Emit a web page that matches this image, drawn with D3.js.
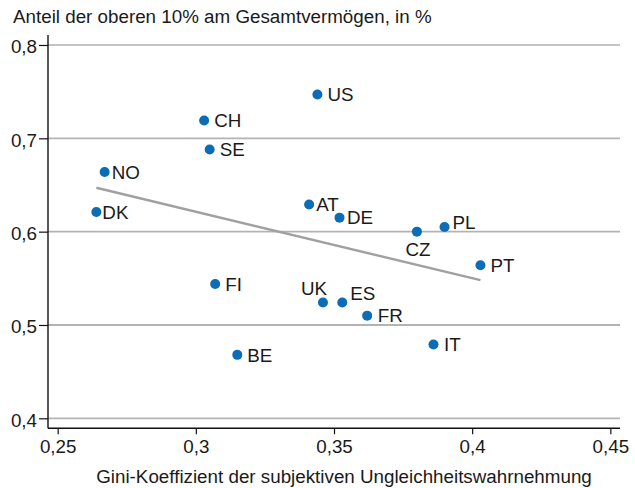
<!DOCTYPE html>
<html>
<head>
<meta charset="utf-8">
<script src="https://cdn.jsdelivr.net/npm/d3@7"></script>
<style>
  html, body { margin: 0; padding: 0; background: #fff; }
  svg { display: block; font-family: "Liberation Sans", Arial, sans-serif; }
</style>
</head>
<body>
<svg id="chart" width="635" height="488"></svg>
<script>
// Countries, perceived-inequality Gini (x) and top-10% wealth share (y)
const countries = ["US", "CH", "SE", "NO", "DK", "AT", "DE", "CZ", "PL", "PT", "UK", "ES", "FR", "IT", "FI", "BE"];
const giniPerceived = [0.344, 0.303, 0.305, 0.267, 0.264, 0.341, 0.352, 0.380, 0.390, 0.403, 0.346, 0.353, 0.362, 0.386, 0.307, 0.315];
const topShare = [0.747, 0.719, 0.688, 0.664, 0.621, 0.629, 0.615, 0.600, 0.605, 0.564, 0.524, 0.524, 0.510, 0.479, 0.544, 0.468];

// Linear trend line endpoints
const trendX = [0.264, 0.403];
const trendY = [0.647, 0.548];

// Axis ticks and their labels
const xTicks = [0.25, 0.30, 0.35, 0.40, 0.45];
const xTickLabels = ["0,25", "0,3", "0,35", "0,4", "0,45"];
const yTicks = [0.4, 0.5, 0.6, 0.7, 0.8];
const yTickLabels = ["0,4", "0,5", "0,6", "0,7", "0,8"];

const titleText = "Anteil der oberen 10% am Gesamtvermögen, in %";
const xAxisTitle = "Gini-Koeffizient der subjektiven Ungleichheitswahrnehmung";

const svg = d3.select("#chart");
const frame = { left: 48, right: 620, top: 35, bottom: 428.3 };
const fontSize = 18.8;

const x = d3.scaleLinear().domain([0.2465, 0.4535]).range([frame.left, frame.right]);
const y = d3.scaleLinear().domain([0.3893, 0.8107]).range([frame.bottom, frame.top]);

const textColor = "#1a1a1a";
const dotColor = "#0a6db5";

// horizontal grid lines
svg.append("g").selectAll("line")
  .data(yTicks)
  .join("line")
  .attr("x1", frame.left).attr("x2", frame.right)
  .attr("y1", d => y(d)).attr("y2", d => y(d))
  .attr("stroke", d => d === 0.8 ? "#8a8a8a" : "#b3b3b3")
  .attr("stroke-width", d => d === 0.8 ? 1.2 : 1.8);

// y axis
const yAxis = d3.axisLeft(y)
  .tickValues(yTicks)
  .tickFormat((d, i) => yTickLabels[i])
  .tickSize(9)
  .tickPadding(2);
const gy = svg.append("g").attr("transform", `translate(${frame.left},0)`).call(yAxis);
gy.select(".domain").remove();
gy.selectAll(".tick line").attr("stroke", "#111").attr("stroke-width", 1.2);
gy.selectAll(".tick text")
  .attr("fill", textColor)
  .attr("font-size", fontSize)
  .attr("font-family", "Liberation Sans, Arial, sans-serif")
  .attr("dy", "0.42em");

// x axis
const xAxis = d3.axisBottom(x)
  .tickValues(xTicks)
  .tickFormat((d, i) => xTickLabels[i])
  .tickSize(6)
  .tickPadding(5);
const gx = svg.append("g").attr("transform", `translate(0,${frame.bottom})`).call(xAxis);
gx.select(".domain").remove();
gx.selectAll(".tick line").attr("stroke", "#111").attr("stroke-width", 1.2);
gx.selectAll(".tick text")
  .attr("fill", textColor)
  .attr("font-size", fontSize)
  .attr("font-family", "Liberation Sans, Arial, sans-serif");

// axis frame lines
svg.append("line")
  .attr("x1", frame.left).attr("x2", frame.left)
  .attr("y1", frame.top).attr("y2", frame.bottom)
  .attr("stroke", "#111").attr("stroke-width", 1.4);
svg.append("line")
  .attr("x1", frame.left).attr("x2", frame.right)
  .attr("y1", frame.bottom).attr("y2", frame.bottom)
  .attr("stroke", "#111").attr("stroke-width", 1.4);

// trend line
svg.append("line")
  .attr("x1", x(trendX[0])).attr("y1", y(trendY[0]))
  .attr("x2", x(trendX[1])).attr("y2", y(trendY[1]))
  .attr("stroke", "#a0a0a0").attr("stroke-width", 2.4);

const points = countries.map((c, i) => ({ c, gx: giniPerceived[i], ty: topShare[i] }));

// dots
svg.append("g").selectAll("circle")
  .data(points)
  .join("circle")
  .attr("cx", d => x(d.gx))
  .attr("cy", d => y(d.ty))
  .attr("r", 5)
  .attr("fill", dotColor);

// label placement around each dot
const labelPlacement = {
  US: { dx: 10, dy: 0, anchor: "start" },
  CH: { dx: 10, dy: 0, anchor: "start" },
  SE: { dx: 10, dy: 0, anchor: "start" },
  NO: { dx: 7, dy: 0, anchor: "start" },
  DK: { dx: 6, dy: 0, anchor: "start" },
  AT: { dx: 7, dy: 0, anchor: "start" },
  DE: { dx: 7.5, dy: 0, anchor: "start" },
  CZ: { dx: 1, dy: 18, anchor: "middle" },
  PL: { dx: 8, dy: -5, anchor: "start" },
  PT: { dx: 10, dy: 0, anchor: "start" },
  UK: { dx: -9, dy: -14, anchor: "middle" },
  ES: { dx: 8, dy: -9, anchor: "start" },
  FR: { dx: 10.5, dy: 0, anchor: "start" },
  IT: { dx: 10.5, dy: 0, anchor: "start" },
  FI: { dx: 10, dy: 0, anchor: "start" },
  BE: { dx: 10, dy: 0, anchor: "start" }
};

svg.append("g").selectAll("text")
  .data(points)
  .join("text")
  .attr("x", d => x(d.gx) + labelPlacement[d.c].dx)
  .attr("y", d => y(d.ty) + labelPlacement[d.c].dy)
  .attr("dy", "0.36em")
  .attr("text-anchor", d => labelPlacement[d.c].anchor)
  .attr("font-size", fontSize)
  .attr("fill", textColor)
  .text(d => d.c);

// titles
svg.append("text")
  .attr("x", 13).attr("y", 23)
  .attr("font-size", fontSize)
  .attr("fill", textColor)
  .text(titleText);

svg.append("text")
  .attr("x", (x(0.25) + x(0.45)) / 2 + 10).attr("y", 483)
  .attr("text-anchor", "middle")
  .attr("font-size", fontSize)
  .attr("fill", textColor)
  .text(xAxisTitle);
</script>
</body>
</html>
